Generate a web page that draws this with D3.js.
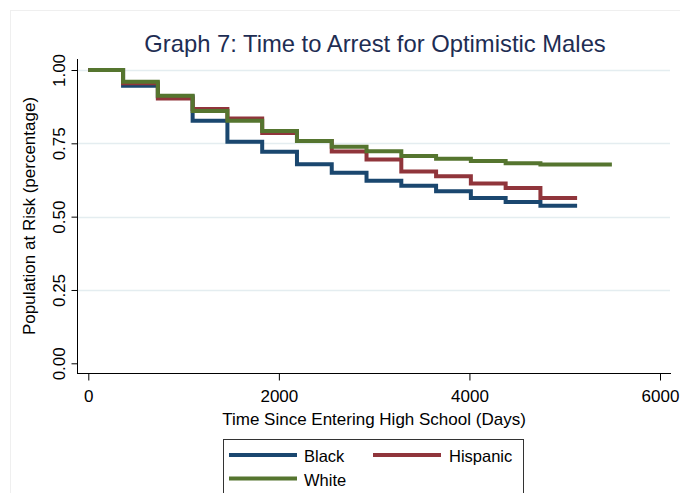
<!DOCTYPE html>
<html>
<head>
<meta charset="utf-8">
<script src="https://cdn.jsdelivr.net/npm/d3@7"></script>
<style>
  html, body { margin: 0; padding: 0; background: #ffffff; }
  svg { display: block; }
  text { font-family: "Liberation Sans", Arial, sans-serif; }
</style>
</head>
<body>
<svg id="chart" width="680" height="493"></svg>
<script>
// Kaplan-Meier style survival estimates, one value per yearly interval (days)
const days = [0, 365, 730, 1095, 1460, 1825, 2190, 2555, 2920, 3285, 3650, 4015, 4380, 4745, 5110];

const black    = [1.000, 0.946, 0.910, 0.827, 0.755, 0.721, 0.679, 0.650, 0.622, 0.605, 0.587, 0.564, 0.550, 0.537];
const hispanic = [1.000, 0.955, 0.903, 0.867, 0.835, 0.785, 0.758, 0.722, 0.695, 0.654, 0.638, 0.613, 0.598, 0.564];
const white    = [1.000, 0.960, 0.912, 0.860, 0.827, 0.792, 0.758, 0.738, 0.723, 0.707, 0.697, 0.690, 0.682, 0.678, 0.678];

// last day of follow-up for each group
const followUp = [5130, 5130, 5495];

const seriesNames = ["Black", "Hispanic", "White"];
const seriesValues = [black, hispanic, white];
const seriesColors = ["#1a476f", "#90353b", "#55752f"];

const xTicks = [0, 2000, 4000, 6000];
const yTicks = [0, 0.25, 0.5, 0.75, 1.0];

const titleText = "Graph 7: Time to Arrest for Optimistic Males";
const xTitle = "Time Since Entering High School (Days)";
const yTitle = "Population at Risk (percentage)";

const svg = d3.select("#chart");

// faint outer frame
svg.append("rect")
  .attr("x", 10.5).attr("y", 10.5)
  .attr("width", 700).attr("height", 520)
  .attr("fill", "none")
  .attr("stroke", "#efefef");

const x = d3.scaleLinear().domain([0, 6000]).range([88.3, 660]);
const y = d3.scaleLinear().domain([0, 1]).range([363.3, 70]);

const plotLeft = 77.5, plotRight = 671, plotTop = 59, plotBottom = 374;

// horizontal grid lines
svg.append("g")
  .selectAll("line")
  .data(yTicks.filter(d => d > 0))
  .join("line")
  .attr("x1", plotLeft).attr("x2", 670)
  .attr("y1", d => Math.round(y(d)) + 0.5)
  .attr("y2", d => Math.round(y(d)) + 0.5)
  .attr("stroke", "#e4edf0")
  .attr("stroke-width", 1.5);

// step curves
const line = d3.line()
  .x(d => x(d[0]))
  .y(d => y(d[1]))
  .curve(d3.curveStepAfter);

seriesValues.forEach((vals, i) => {
  const pts = vals.map((v, k) => [days[k], v]);
  // carry the last value to the end of follow-up
  pts.push([followUp[i], vals[vals.length - 1]]);
  svg.append("path")
    .datum(pts)
    .attr("d", line)
    .attr("fill", "none")
    .attr("stroke", seriesColors[i])
    .attr("stroke-width", 4)
    .attr("stroke-linejoin", "miter")
    .attr("stroke-linecap", "butt");
});

// axes
const yAxis = d3.axisLeft(y)
  .tickValues(yTicks)
  .tickFormat(d3.format(".2f"))
  .tickSize(6)
  .tickSizeOuter(0);

const gy = svg.append("g")
  .attr("transform", `translate(${plotLeft},0)`)
  .call(yAxis);
gy.select(".domain").remove();
gy.selectAll(".tick line").attr("stroke", "#000");
gy.selectAll(".tick text")
  .attr("font-size", 17)
  .attr("fill", "#000")
  .attr("text-anchor", "middle")
  .attr("transform", "rotate(-90)")
  .attr("x", 0)
  .attr("y", -13)
  .attr("dy", 0);

gy.append("line")
  .attr("x1", 0).attr("x2", 0)
  .attr("y1", plotTop).attr("y2", plotBottom)
  .attr("stroke", "#000");

const xAxis = d3.axisBottom(x)
  .tickValues(xTicks)
  .tickFormat(d3.format("d"))
  .tickSize(7)
  .tickSizeOuter(0);

const gx = svg.append("g")
  .attr("transform", `translate(0,${plotBottom - 0.5})`)
  .call(xAxis);
gx.select(".domain").remove();
gx.selectAll(".tick line").attr("stroke", "#000");
gx.selectAll(".tick text")
  .attr("font-size", 17)
  .attr("fill", "#000")
  .attr("y", 28)
  .attr("dy", 0);

gx.append("line")
  .attr("x1", plotLeft - 0.5).attr("x2", plotRight)
  .attr("y1", 0).attr("y2", 0)
  .attr("stroke", "#000");

// titles
svg.append("text")
  .attr("x", 375).attr("y", 51.5)
  .attr("text-anchor", "middle")
  .attr("font-size", 23.8)
  .attr("fill", "#1e2d53")
  .text(titleText);

svg.append("text")
  .attr("x", 374).attr("y", 424.5)
  .attr("text-anchor", "middle")
  .attr("font-size", 17)
  .attr("fill", "#000")
  .text(xTitle);

svg.append("text")
  .attr("transform", "translate(35,216) rotate(-90)")
  .attr("text-anchor", "middle")
  .attr("font-size", 17)
  .attr("fill", "#000")
  .text(yTitle);

// legend
const legend = svg.append("g");
legend.append("rect")
  .attr("x", 223.5).attr("y", 439.5)
  .attr("width", 300).attr("height", 80)
  .attr("fill", "#fff")
  .attr("stroke", "#333");

const legendPos = [
  { lx: 229, ly: 455, tx: 304, ty: 461.5 },
  { lx: 373, ly: 455, tx: 449, ty: 461.5 },
  { lx: 229, ly: 478.5, tx: 304, ty: 485.5 }
];

seriesNames.forEach((name, i) => {
  const p = legendPos[i];
  legend.append("line")
    .attr("x1", p.lx).attr("x2", p.lx + 68)
    .attr("y1", p.ly).attr("y2", p.ly)
    .attr("stroke", seriesColors[i])
    .attr("stroke-width", 4);
  legend.append("text")
    .attr("x", p.tx).attr("y", p.ty)
    .attr("font-size", 16.5)
    .attr("fill", "#000")
    .text(name);
});
</script>
</body>
</html>
